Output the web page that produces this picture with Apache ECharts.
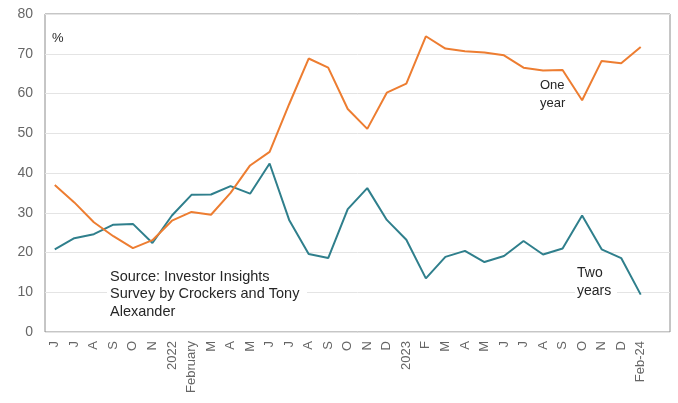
<!DOCTYPE html>
<html>
<head>
<meta charset="utf-8">
<script src="https://cdn.jsdelivr.net/npm/echarts@6/dist/echarts.min.js"></script>
<style>
  html, body { margin: 0; padding: 0; background: #fff; }
  #chart { width: 678px; height: 403px; }
</style>
</head>
<body>
<div id="chart"></div>
<script>
// month labels, last slot is an empty one the plot frame runs into
var months = ['J', 'J', 'A', 'S', 'O', 'N', '2022', 'February', 'M', 'A', 'M', 'J', 'J', 'A', 'S', 'O', 'N', 'D',
  '2023', 'F', 'M', 'A', 'M', 'J', 'J', 'A', 'S', 'O', 'N', 'D', 'Feb-24', '']

var oneYear = [37, 32.6, 27.6, 24.1, 21.1, 23.1, 28, 30.2, 29.5, 35, 41.9, 45.3, 57.3, 68.8, 66.5, 56.1, 51.1, 60.2,
  62.5, 74.4, 71.3, 70.6, 70.3, 69.6, 66.5, 65.8, 65.9, 58.3, 68.2, 67.6, 71.7]

var twoYears = [20.8, 23.6, 24.6, 27, 27.2, 22.4, 29.3, 34.5, 34.6, 36.7, 34.8, 42.4, 28.2, 19.6, 18.6, 30.9, 36.2, 28.2,
  23.2, 13.5, 18.9, 20.4, 17.6, 19.1, 22.9, 19.5, 21, 29.3, 20.8, 18.6, 9.4]

var yTicks = { min: 0, max: 80, step: 10 }

var chart = echarts.init(document.getElementById('chart'))

function label(x, y, text, size, lh) {
  return {
    type: 'text', left: x, top: y, z: 101,
    style: {
      text: text,
      fontFamily: 'Liberation Sans, Arial, sans-serif',
      fontSize: size,
      lineHeight: lh,
      fill: '#262626'
    }
  }
}

// white box behind a text block, gridlines stop there like in the excel text boxes
function box(x, y, w, h) {
  return { type: 'rect', left: x, top: y, z: 100, shape: { width: w, height: h }, style: { fill: '#fff' } }
}

chart.setOption({
  animation: false,
  textStyle: { fontFamily: 'Liberation Sans, Arial, sans-serif' },
  grid: {
    left: 45,
    right: 8,
    top: 14,
    bottom: 71,
    show: true,
    borderColor: '#8c8c8c',
    borderWidth: 1
  },
  xAxis: {
    type: 'category',
    data: months,
    boundaryGap: true,
    axisLine: { show: false },
    axisTick: { show: false },
    axisLabel: {
      interval: 0,
      rotate: 90,
      margin: 9,
      fontSize: 13,
      color: '#666'
    }
  },
  yAxis: {
    type: 'value',
    min: yTicks.min,
    max: yTicks.max,
    interval: yTicks.step,
    axisLine: { show: false },
    axisTick: { show: false },
    axisLabel: {
      margin: 12,
      fontSize: 14,
      color: '#666'
    },
    splitLine: {
      lineStyle: { color: '#e4e4e4', width: 1 }
    }
  },
  series: [
    {
      name: 'One year',
      type: 'line',
      data: oneYear,
      symbol: 'none',
      z: 3,
      lineStyle: { color: '#ED7D31', width: 2 },
      itemStyle: { color: '#ED7D31' }
    },
    {
      name: 'Two years',
      type: 'line',
      data: twoYears,
      symbol: 'none',
      z: 2,
      lineStyle: { color: '#2F7F8C', width: 2 },
      itemStyle: { color: '#2F7F8C' }
    }
  ],
  graphic: [
    label(52, 29, '%', 13, 18),
    label(540, 76, 'One\nyear', 13, 18),
    box(575, 264, 42, 36),
    label(577, 264, 'Two\nyears', 14, 18),
    box(107, 268, 200, 54),
    label(110, 268, 'Source: Investor Insights\nSurvey by Crockers and Tony\nAlexander', 14.5, 17.5)
  ]
})
</script>
</body>
</html>
